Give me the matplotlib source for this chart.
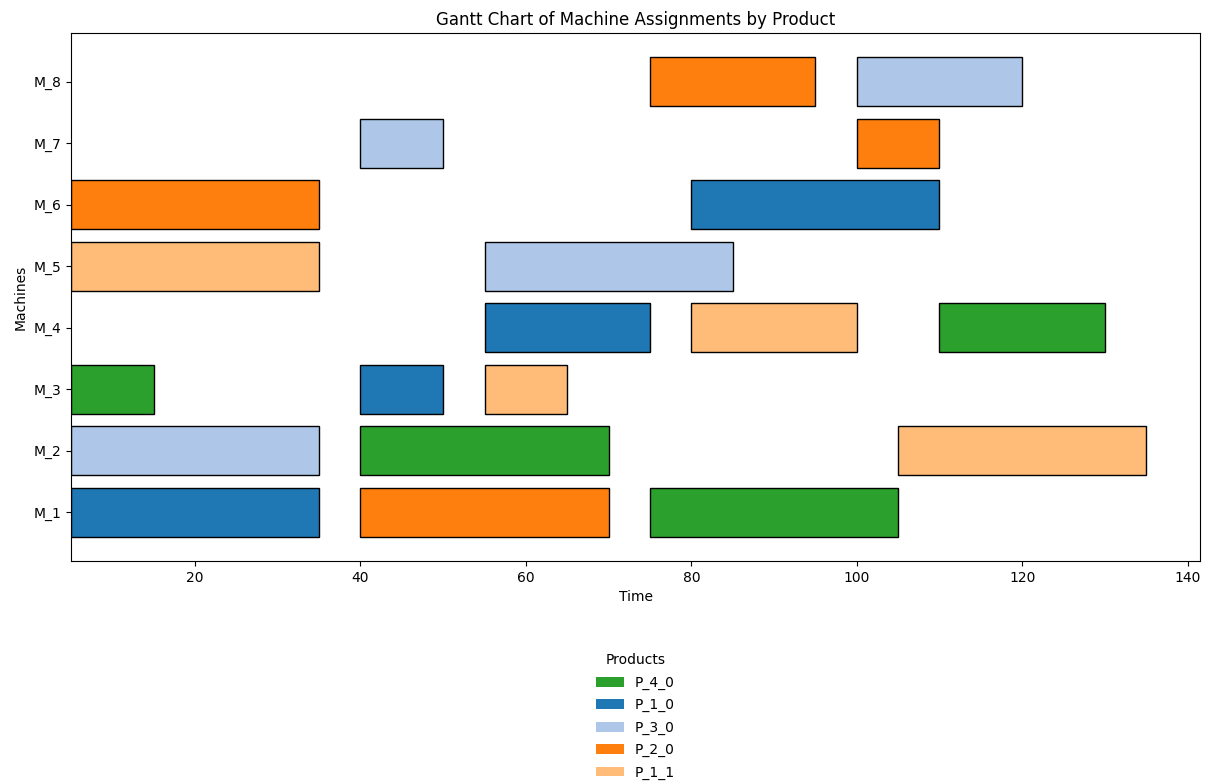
import matplotlib
matplotlib.use("Agg")
import matplotlib.pyplot as plt
from matplotlib.patches import Patch

machines = ["M_1", "M_2", "M_3", "M_4", "M_5", "M_6", "M_7", "M_8"]
products = ["P_4_0", "P_1_0", "P_3_0", "P_2_0", "P_1_1"]
product_colors = {
    "P_4_0": "#2ca02c",
    "P_1_0": "#1f77b4",
    "P_3_0": "#aec7e8",
    "P_2_0": "#ff7f0e",
    "P_1_1": "#ffbb78",
}

# (machine, product, start, end)
task_machine = ["M_1", "M_1", "M_1",
                "M_2", "M_2", "M_2",
                "M_3", "M_3", "M_3",
                "M_4", "M_4", "M_4",
                "M_5", "M_5",
                "M_6", "M_6",
                "M_7", "M_7",
                "M_8", "M_8"]
task_product = ["P_1_0", "P_2_0", "P_4_0",
                "P_3_0", "P_4_0", "P_1_1",
                "P_4_0", "P_1_0", "P_1_1",
                "P_1_0", "P_1_1", "P_4_0",
                "P_1_1", "P_3_0",
                "P_2_0", "P_1_0",
                "P_3_0", "P_2_0",
                "P_2_0", "P_3_0"]
task_start = [5, 40, 75,
              5, 40, 105,
              5, 40, 55,
              55, 80, 110,
              5, 55,
              5, 80,
              40, 100,
              75, 100]
task_end = [35, 70, 105,
            35, 70, 135,
            15, 50, 65,
            75, 100, 130,
            35, 85,
            35, 110,
            50, 110,
            95, 120]

fig = plt.figure(figsize=(12.09, 7.82), dpi=100)
ax = fig.add_axes([0.0587, 0.2826, 0.9339, 0.6752])

for m, p, s, e in zip(task_machine, task_product, task_start, task_end):
    ax.barh(machines.index(m), e - s, left=s, height=0.8,
            color=product_colors[p], edgecolor="black", linewidth=1)

ax.set_yticks(range(len(machines)))
ax.set_yticklabels(machines)
ax.set_xlabel("Time")
ax.set_ylabel("Machines")
ax.set_title("Gantt Chart of Machine Assignments by Product")

handles = [Patch(facecolor=product_colors[p], label=p) for p in products]
ax.legend(handles=handles, title="Products", loc="upper center",
          bbox_to_anchor=(0.5, -0.151), frameon=False, labelspacing=0.6)

fig.savefig("out.png", dpi=100)
